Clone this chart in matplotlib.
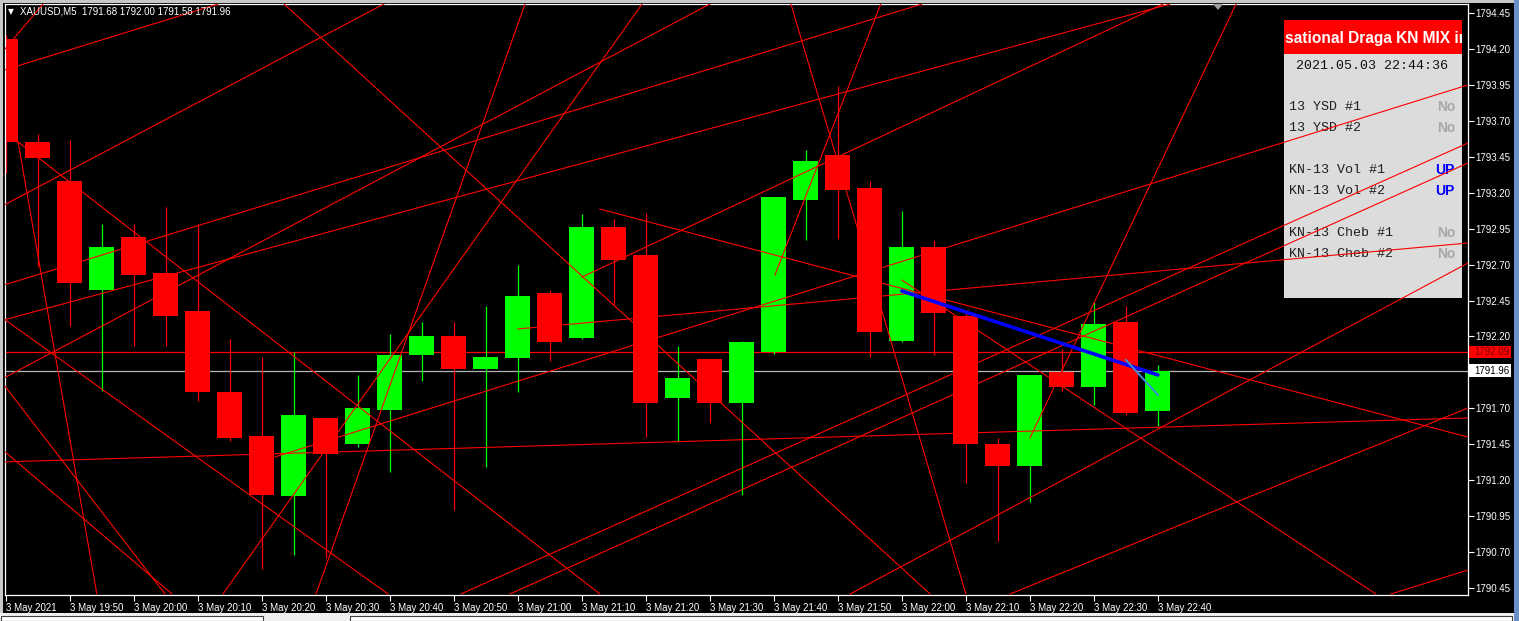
import matplotlib
matplotlib.use('Agg')
import matplotlib.pyplot as plt
from matplotlib.patches import Rectangle, Polygon
import numpy as np

# ---------------- data ----------------
times = ['19:40', '19:45', '19:50', '19:55', '20:00', '20:05', '20:10', '20:15', '20:20', '20:25',
         '20:30', '20:35', '20:40', '20:45', '20:50', '20:55', '21:00', '21:05', '21:10', '21:15',
         '21:20', '21:25', '21:30', '21:35', '21:40', '21:45', '21:50', '21:55', '22:00', '22:05',
         '22:10', '22:15', '22:20', '22:25', '22:30', '22:35', '22:40']
opens = [1794.27, 1793.55, 1793.28, 1792.52, 1792.89, 1792.64, 1792.38, 1791.81, 1791.51, 1791.09,
         1791.63, 1791.45, 1791.69, 1792.07, 1792.20, 1791.97, 1792.05, 1792.50, 1792.19, 1792.96,
         1792.77, 1791.77, 1792.04, 1791.74, 1792.09, 1793.15, 1793.46, 1793.23, 1792.17, 1792.82,
         1792.34, 1791.45, 1791.30, 1791.95, 1791.85, 1792.30, 1791.68]
highs = [1794.30, 1793.61, 1793.57, 1792.98, 1792.98, 1793.10, 1792.98, 1792.18, 1792.06, 1792.09,
         1791.63, 1791.93, 1792.22, 1792.30, 1792.30, 1792.41, 1792.70, 1792.52, 1793.05, 1793.02,
         1793.06, 1792.13, 1792.04, 1792.17, 1793.17, 1793.50, 1793.94, 1793.28, 1793.07, 1792.87,
         1792.36, 1791.49, 1791.93, 1792.11, 1792.44, 1792.41, 1792.00]
lows = [1793.34, 1792.69, 1792.27, 1791.82, 1792.13, 1792.13, 1791.75, 1791.47, 1790.58, 1790.68,
        1790.66, 1791.43, 1791.26, 1791.89, 1790.99, 1791.29, 1791.81, 1792.03, 1792.18, 1792.42,
        1791.50, 1791.47, 1791.60, 1791.10, 1792.08, 1792.87, 1792.88, 1792.06, 1792.16, 1792.07,
        1791.18, 1790.78, 1791.05, 1791.82, 1791.72, 1791.65, 1791.58]
closes = [1793.55, 1793.44, 1792.57, 1792.82, 1792.63, 1792.34, 1791.81, 1791.49, 1791.10, 1791.65,
          1791.38, 1791.70, 1792.07, 1792.20, 1791.97, 1792.06, 1792.48, 1792.16, 1792.96, 1792.73,
          1791.74, 1791.91, 1791.74, 1792.16, 1793.17, 1793.42, 1793.22, 1792.23, 1792.82, 1792.36,
          1791.45, 1791.30, 1791.93, 1791.85, 1792.29, 1791.67, 1791.96]

price_ticks = [1790.45, 1790.70, 1790.95, 1791.20, 1791.45, 1791.70, 1791.95, 1792.20,
               1792.45, 1792.70, 1792.95, 1793.20, 1793.45, 1793.70, 1793.95, 1794.20, 1794.45]
ask_level = 1792.09
bid_level = 1791.96

# trend lines: (bar index, price) -> (bar index, price)
line_t0 = [-0.06, -0.06, -0.06, -0.06, -0.06, -0.06, -0.06, 16.00, 8.41,
           14.22, 15.75, 26.38, 31.38, 43.28,
           0.38, -0.06, 0.38, 28.00, 18.56, 16.22, 19.88, 32.00, 24.53, 8.69,
           -0.06, -0.06, 24.03, 18.00]
line_p0 = [1794.192, 1794.053, 1793.114, 1792.558, 1792.315, 1791.911, 1791.327, 1792.252, 1791.362,
           1790.408, 1790.408, 1790.408, 1790.408, 1790.408,
           1793.553, 1792.321, 1793.553, 1792.592, 1793.086, 1794.513, 1794.513, 1791.493, 1794.513,
           1794.513,
           1791.862, 1791.403, 1792.627, 1792.613]
line_t1 = [1.16, 6.63, 11.81, 28.63, 36.38, 22.00, 45.69, 45.69, 45.69,
           45.69, 45.69, 45.69, 45.69, 45.69,
           18.56, 11.94, 2.84, 42.81, 45.69, 9.69, 6.78, 38.44, 30.00, 28.88,
           4.97, 5.19, 27.34, 36.16]
line_p1 = [1794.513, 1794.513, 1794.513, 1794.513, 1794.513, 1794.513, 1791.633, 1792.85, 1793.95,
           1793.546, 1793.407, 1792.711, 1791.702, 1790.575,
           1790.408, 1790.408, 1790.408, 1790.408, 1791.50, 1790.408, 1790.408, 1794.513, 1790.408,
           1790.408,
           1790.408, 1790.408, 1794.513, 1794.513]

blue_t = [28.0, 36.0]
blue_p = [1792.516, 1791.932]
lblue_t = [35.0, 36.0]
lblue_p = [1792.036, 1791.793]

header = 'XAUUSD,M5  1791.68 1792.00 1791.58 1791.96'
panel_title = 'sational Draga KN MIX in'
panel_time = '2021.05.03 22:44:36'
panel_rows = ['13 YSD #1', '13 YSD #2', 'KN-13 Vol #1', 'KN-13 Vol #2', 'KN-13 Cheb #1', 'KN-13 Cheb #2']
panel_vals = ['No', 'No', 'UP', 'UP', 'No', 'No']

# ---------------- figure ----------------
W, H = 1519, 621
fig = plt.figure(figsize=(W / 100, H / 100), dpi=100, facecolor='black')


def fx(x):
    return x / W


def fy(y):
    return 1 - y / H


ax = fig.add_axes([fx(5), fy(595), fx(1468) - fx(5), fy(4) - fy(595)])
ax.set_facecolor('black')
ax.set_xlim(-0.03, 45.69)
ax.set_ylim(1790.401, 1794.513)
for s in ax.spines.values():
    s.set_color('white')
    s.set_linewidth(0.9)

SANS = 'Liberation Sans'
MONO = 'Liberation Mono'

# candles
x = np.arange(len(times))
bw = 0.78
for i in range(len(times)):
    o, h, l, c = opens[i], highs[i], lows[i], closes[i]
    col = '#00FF00' if c >= o else '#FF0000'
    ax.vlines(x[i], l, h, color=col, linewidth=0.9, zorder=2)
    ax.add_patch(Rectangle((x[i] - bw / 2, min(o, c)), bw, abs(c - o), facecolor=col,
                           edgecolor='none', zorder=2.1))

# horizontal levels
ax.axhline(ask_level, color='#FF0000', linewidth=0.9, zorder=1.5)
ax.axhline(bid_level, color='#B4B4B4', linewidth=0.9, zorder=1.5)

# info panel (screen-fixed)
ax.add_patch(Rectangle((fx(1284), fy(298)), fx(1462) - fx(1284), fy(53) - fy(298),
                       transform=fig.transFigure, facecolor='#DCDCDC', edgecolor='none', zorder=3))
hdr = Rectangle((fx(1284), fy(54)), fx(1462) - fx(1284), fy(20) - fy(54),
                transform=fig.transFigure, facecolor='#FF0000', edgecolor='none', zorder=3)
ax.add_patch(hdr)
t = ax.text(fx(1285), fy(38), panel_title, transform=fig.transFigure, color='white',
            fontsize=11.2, fontweight='bold', family=SANS, va='center', ha='left', zorder=3.2)
t.set_clip_on(True)
t.set_clip_path(hdr)
ax.text(fx(1372), fy(66), panel_time, transform=fig.transFigure, color='#111111',
        fontsize=9.6, family=MONO, va='center', ha='center', zorder=3.2)
row_y = [107, 128, 170, 191, 233, 254]
for name, val, yy in zip(panel_rows, panel_vals, row_y):
    ax.text(fx(1289), fy(yy), name, transform=fig.transFigure, color='#202020',
            fontsize=9.6, family=MONO, va='center', ha='left', zorder=3.2)
    vc = '#0000FF' if val == 'UP' else '#A8A8A8'
    ax.text(fx(1455), fy(yy), val, transform=fig.transFigure, color=vc,
            fontsize=10, fontweight='bold', family=SANS, va='center', ha='right', zorder=3.2)

# red trend lines
for a0, b0, a1, b1 in zip(line_t0, line_p0, line_t1, line_p1):
    ax.plot([a0, a1], [b0, b1], color='#FF0000', linewidth=0.8, zorder=4)

ax.plot(blue_t, blue_p, color='#0000FF', linewidth=2.6, zorder=5, solid_capstyle='round')
ax.plot(lblue_t, lblue_p, color='#3A8EE0', linewidth=1.4, zorder=5.1)

# axes ticks
ax.yaxis.tick_right()
ax.set_yticks(price_ticks)
ax.set_yticklabels([f'{v:.2f}' for v in price_ticks])
ax.tick_params(axis='y', colors='white', length=4, width=0.8, labelsize=7, pad=1.5,
               labelcolor='white')
xt = [0] + list(range(2, len(times), 2))
xl = ['3 May 2021'] + ['3 May ' + times[i] for i in range(2, len(times), 2)]
ax.set_xticks(xt)
ax.set_xticklabels(xl)
ax.tick_params(axis='x', colors='white', length=4, width=0.8, labelsize=7, pad=1.5,
               labelcolor='white')
for lab in ax.get_xticklabels() + ax.get_yticklabels():
    lab.set_family(SANS)
for lab in ax.get_xticklabels():
    lab.set_ha('left')

# price labels for current levels
fig.patches.append(Rectangle((fx(1469), fy(358)), fx(1511) - fx(1469), fy(346) - fy(358),
                             transform=fig.transFigure, facecolor='#FF0000', edgecolor='none'))
fig.text(fx(1474), fy(352), f'{ask_level:.2f}', color='#7A0000', fontsize=7, family=SANS,
         va='center', ha='left')
fig.patches.append(Rectangle((fx(1469), fy(377)), fx(1511) - fx(1469), fy(364) - fy(377),
                             transform=fig.transFigure, facecolor='white', edgecolor='none'))
fig.text(fx(1474), fy(371), f'{bid_level:.2f}', color='black', fontsize=7, family=SANS,
         va='center', ha='left')

# header
fig.text(fx(8), fy(12), '\u25bc', color='white', fontsize=5.5, family='DejaVu Sans',
         va='center', ha='left')
fig.text(fx(20), fy(12), header, color='white', fontsize=7, family=SANS, va='center', ha='left')

# shift marker
fig.patches.append(Polygon([(fx(1213), fy(4)), (fx(1223), fy(4)), (fx(1218), fy(10))],
                           closed=True, transform=fig.transFigure, facecolor='#A0A0A0',
                           edgecolor='none'))

# window chrome
fig.patches.append(Rectangle((0, fy(3)), 1, fy(0) - fy(3), transform=fig.transFigure,
                             facecolor='#C8C8C8', edgecolor='none'))
fig.patches.append(Rectangle((0, 0), fx(3), 1, transform=fig.transFigure,
                             facecolor='#C8C8C8', edgecolor='none'))
fig.patches.append(Rectangle((0, 0), 1, fy(613), transform=fig.transFigure,
                             facecolor='#F0F0F0', edgecolor='none'))
fig.patches.append(Rectangle((fx(1), fy(621)), fx(263) - fx(1), fy(616) - fy(621),
                             transform=fig.transFigure, facecolor='white', edgecolor='#404040',
                             linewidth=0.8))
fig.patches.append(Rectangle((fx(350), fy(621)), fx(1512) - fx(350), fy(616) - fy(621),
                             transform=fig.transFigure, facecolor='white', edgecolor='#404040',
                             linewidth=0.8))
fig.patches.append(Rectangle((fx(1514), 0), fx(1519) - fx(1514), 1, transform=fig.transFigure,
                             facecolor='#6A8FC8', edgecolor='none'))

fig.savefig('out.png', dpi=100, facecolor='black')
